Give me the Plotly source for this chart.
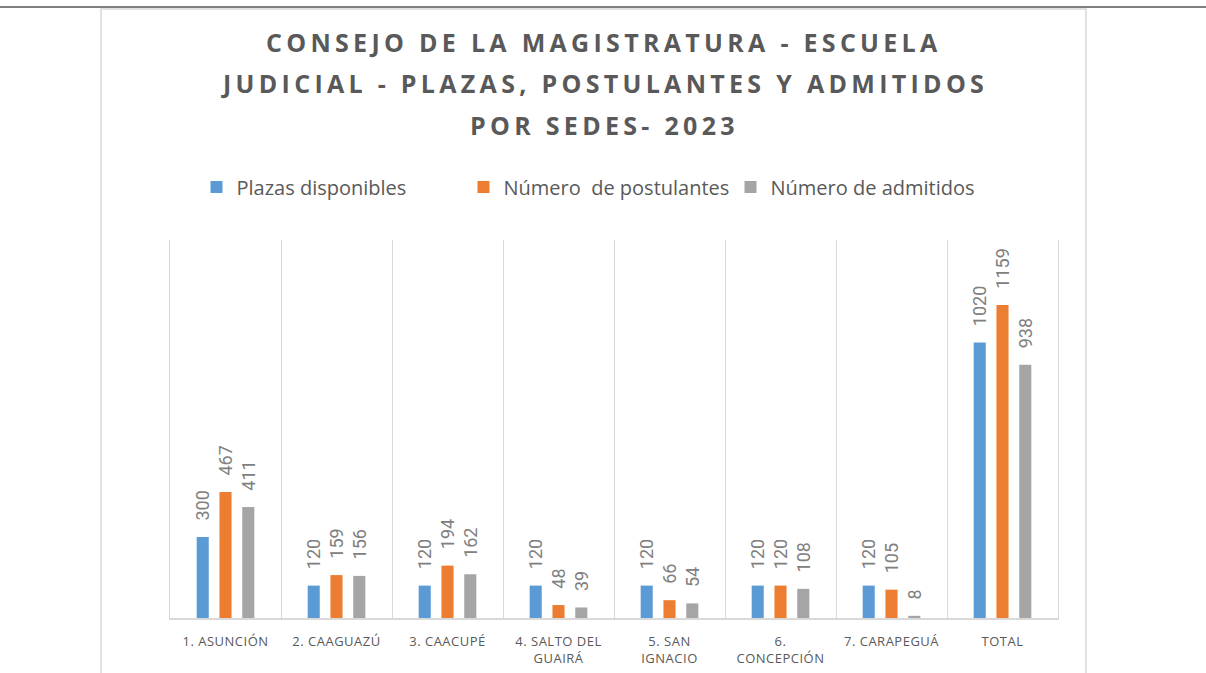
import plotly.graph_objects as go

categories = ["1. ASUNCIÓN", "2. CAAGUAZÚ", "3. CAACUPÉ", "4. SALTO DEL GUAIRÁ",
              "5. SAN IGNACIO", "6. CONCEPCIÓN", "7. CARAPEGUÁ", "TOTAL"]
plazas = [300, 120, 120, 120, 120, 120, 120, 1020]
postulantes = [467, 159, 194, 48, 66, 120, 105, 1159]
admitidos = [411, 156, 162, 39, 54, 108, 8, 938]

series_names = ["Plazas disponibles", "Número  de postulantes", "Número de admitidos"]
series_values = [plazas, postulantes, admitidos]
colors = ["#5B9BD5", "#ED7D31", "#A5A5A5"]

title_lines = ["CONSEJO DE LA MAGISTRATURA - ESCUELA",
               "JUDICIAL - PLAZAS, POSTULANTES Y ADMITIDOS",
               "POR SEDES- 2023"]

W, H = 1206, 673
L, R, T, B = 170, 1058, 240, 618

fig = go.Figure()
for name, vals, col in zip(series_names, series_values, colors):
    fig.add_trace(go.Bar(
        x=categories, y=vals, name=name.replace("  ", "\u00a0 "),
        marker=dict(color=col, line=dict(width=0)),
        texttemplate="\u00a0\u00a0\u00a0%{y}",
        textposition="outside", textangle=-90,
        textfont=dict(family="Roboto", size=18, color="#808080"),
        constraintext="none", cliponaxis=False,
        hoverinfo="x+y+name",
    ))

pw, ph = R - L, B - T
def px_x(p):
    return (p - L) / pw
def px_y(p):
    return (B - p) / ph

title_centers = [42, 83, 125]
annotations = []
for line, yc in zip(title_lines, title_centers):
    annotations.append(dict(
        text=f"<span style='letter-spacing:4.3px'>{line}</span>",
        xref="paper", yref="paper", x=px_x(604), y=px_y(yc),
        xanchor="center", yanchor="middle", showarrow=False,
        font=dict(family="Open Sans", size=25, color="#595959", weight="bold")))

def wrap_label(c, maxlen=12):
    if len(c) <= maxlen:
        return c
    head, _, tail = c.rpartition(" ")
    return f"{head}<br>{tail}"

ticktext = [f"<span style='letter-spacing:0.5px'>{wrap_label(c)}</span>" for c in categories]

fig.update_layout(
    width=W, height=H,
    margin=dict(l=L, r=W - R, t=T, b=H - B, autoexpand=False),
    paper_bgcolor="white", plot_bgcolor="white",
    barmode="group", bargap=0.384, bargroupgap=0.47,
    annotations=annotations,
    legend=dict(orientation="h", xref="container", x=597 / W, xanchor="center",
                yref="container", y=1 - 187 / H, yanchor="middle",
                font=dict(family="Open Sans", size=20, color="#595959"),
                entrywidth=222, entrywidthmode="pixels",
                bgcolor="rgba(0,0,0,0)"),
    xaxis=dict(type="category", tickson="boundaries", showgrid=True, gridcolor="#D9D9D9",
               gridwidth=1, showline=True, linecolor="#D9D9D9", linewidth=2,
               ticks="", tickangle=0, ticklabelstandoff=10, automargin=False,
               tickmode="array", tickvals=categories, ticktext=ticktext,
               tickfont=dict(family="Open Sans", size=13, color="#595959")),
    yaxis=dict(range=[0, 1400], showgrid=False, zeroline=False, showticklabels=False,
               showline=True, mirror=True, linecolor="#D9D9D9", linewidth=1, ticks="",
               automargin=False),
    showlegend=True,
    shapes=[
        dict(type="rect", xref="paper", yref="paper",
             x0=px_x(101), x1=px_x(1086), y0=px_y(690), y1=px_y(9),
             line=dict(color="#D9D9D9", width=1.5), layer="below"),
        dict(type="line", xref="paper", yref="paper",
             x0=px_x(0), x1=px_x(1206), y0=px_y(7), y1=px_y(7),
             line=dict(color="#7F7F7F", width=2)),
    ],
)

fig.write_html("out.html", config={"displayModeBar": False},
               post_script="document.body.style.margin='0';document.body.style.overflow='hidden';")
